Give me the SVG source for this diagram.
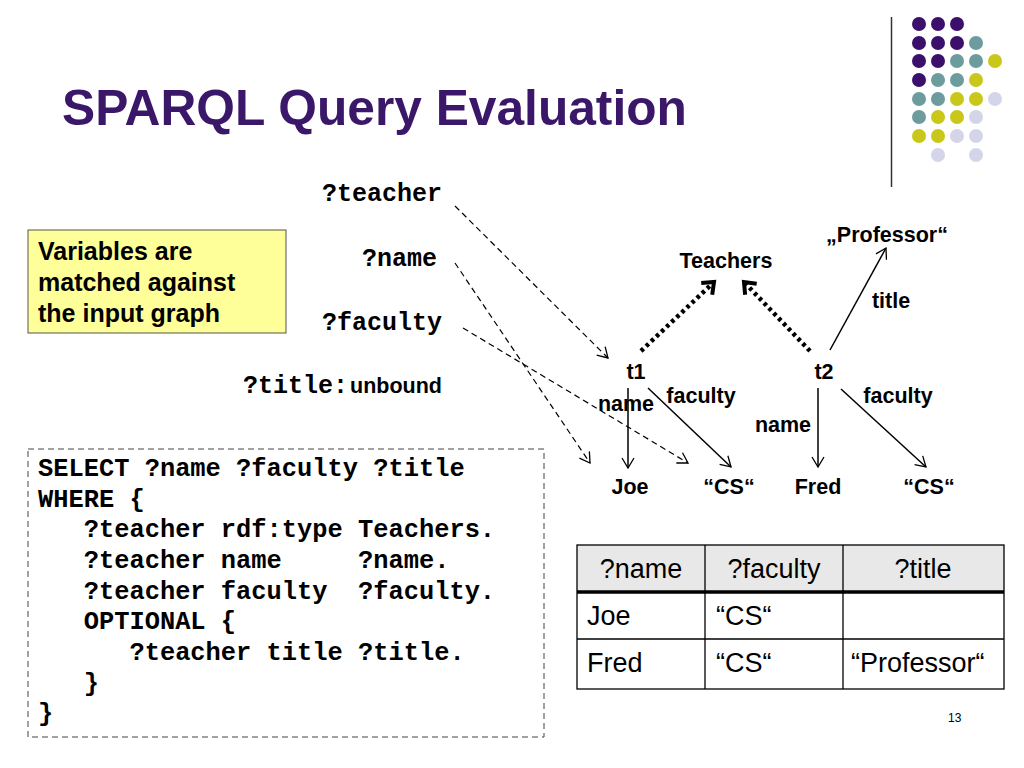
<svg xmlns="http://www.w3.org/2000/svg" width="1024" height="768" viewBox="0 0 1024 768">
<defs>
<style>
.title{font-family:"Liberation Sans",Arial,sans-serif;font-weight:bold;font-size:49.7px;fill:#3b1769}
.lab{font-family:"Liberation Sans",Arial,sans-serif;font-weight:bold;font-size:21.5px;fill:#000}
.var{font-family:"Liberation Mono","Courier New",monospace;font-weight:bold;font-size:25px;fill:#000}
.code{font-family:"Liberation Mono","Courier New",monospace;font-weight:bold;font-size:25.4px;fill:#000;white-space:pre}
.note{font-family:"Liberation Sans",Arial,sans-serif;font-weight:bold;font-size:25px;fill:#000}
.cell{font-family:"Liberation Sans",Arial,sans-serif;font-size:27px;fill:#000}
.dash{fill:none;stroke:#000;stroke-width:1.2;stroke-dasharray:6 4}
.solid{fill:none;stroke:#000;stroke-width:1.5}
.dot{fill:none;stroke:#000;stroke-width:4.5;stroke-dasharray:3.5 3.5}
.pu{fill:#3b0f6b}.te{fill:#6c9c9e}.ye{fill:#c9c81a}.la{fill:#d5d5e9}
</style>
<marker id="open" markerWidth="14" markerHeight="14" refX="12" refY="7" orient="auto" markerUnits="userSpaceOnUse">
<path d="M2,1 L12,7 L2,13" fill="none" stroke="#000" stroke-width="1.3"/>
</marker>
<marker id="thick" markerWidth="20" markerHeight="20" refX="15" refY="10" orient="auto" markerUnits="userSpaceOnUse">
<path d="M5,2 L15,10 L5,18" fill="none" stroke="#000" stroke-width="4"/>
</marker>
</defs>
<rect width="1024" height="768" fill="#fff"/>

<g id="decor">
<line x1="891.5" y1="17" x2="891.5" y2="187" stroke="#333" stroke-width="1.5"/>
<circle class="pu" cx="919" cy="24" r="7"/><circle class="pu" cx="938" cy="24" r="7"/><circle class="pu" cx="957" cy="24" r="7"/>
<circle class="pu" cx="919" cy="43" r="7"/><circle class="pu" cx="938" cy="43" r="7"/><circle class="pu" cx="957" cy="43" r="7"/><circle class="te" cx="976" cy="43" r="7"/>
<circle class="pu" cx="919" cy="61" r="7"/><circle class="pu" cx="938" cy="61" r="7"/><circle class="te" cx="957" cy="61" r="7"/><circle class="te" cx="976" cy="61" r="7"/><circle class="ye" cx="995" cy="61" r="7"/>
<circle class="pu" cx="919" cy="80" r="7"/><circle class="te" cx="938" cy="80" r="7"/><circle class="te" cx="957" cy="80" r="7"/><circle class="ye" cx="976" cy="80" r="7"/>
<circle class="te" cx="919" cy="99" r="7"/><circle class="te" cx="938" cy="99" r="7"/><circle class="ye" cx="957" cy="99" r="7"/><circle class="ye" cx="976" cy="99" r="7"/><circle class="la" cx="995" cy="99" r="7"/>
<circle class="te" cx="919" cy="117" r="7"/><circle class="ye" cx="938" cy="117" r="7"/><circle class="ye" cx="957" cy="117" r="7"/><circle class="la" cx="976" cy="117" r="7"/>
<circle class="ye" cx="919" cy="136" r="7"/><circle class="ye" cx="938" cy="136" r="7"/><circle class="la" cx="957" cy="136" r="7"/><circle class="la" cx="976" cy="136" r="7"/>
<circle class="la" cx="938" cy="155" r="7"/><circle class="la" cx="976" cy="155" r="7"/>
</g>

<text class="title" x="62" y="125">SPARQL Query Evaluation</text>

<g id="note">
<rect x="28" y="230" width="258" height="103" fill="#ffff99" stroke="#555" stroke-width="1"/>
<text class="note" x="38" y="260">Variables are</text>
<text class="note" x="38" y="291">matched against</text>
<text class="note" x="38" y="322">the input graph</text>
</g>

<g id="variables">
<text class="var" x="442" y="201" text-anchor="end">?teacher</text>
<text class="var" x="437" y="266" text-anchor="end">?name</text>
<text class="var" x="442" y="330" text-anchor="end">?faculty</text>
<text x="243" y="393"><tspan class="var">?title:</tspan><tspan class="lab" dx="2">unbound</tspan></text>
</g>

<g id="connectors">
<line class="dash" x1="455" y1="206" x2="608" y2="358" marker-end="url(#open)"/>
<line class="dash" x1="455" y1="263" x2="590" y2="463" marker-end="url(#open)"/>
<line class="dash" x1="463" y1="328" x2="688" y2="463" marker-end="url(#open)"/>
<line class="dot" x1="641" y1="351" x2="714" y2="282" marker-end="url(#thick)"/>
<line class="dot" x1="810" y1="351" x2="744" y2="282" marker-end="url(#thick)"/>
<line class="solid" x1="830" y1="350" x2="886" y2="248" marker-end="url(#open)"/>
<line class="solid" x1="628" y1="388" x2="628" y2="468" marker-end="url(#open)"/>
<line class="solid" x1="648" y1="388" x2="731" y2="467" marker-end="url(#open)"/>
<line class="solid" x1="818" y1="388" x2="818" y2="467" marker-end="url(#open)"/>
<line class="solid" x1="841" y1="389" x2="926" y2="467" marker-end="url(#open)"/>
</g>

<g id="edge-labels">
<text class="lab" x="891" y="308" text-anchor="middle">title</text>
<text class="lab" x="626" y="411" text-anchor="middle">name</text>
<text class="lab" x="701" y="403" text-anchor="middle">faculty</text>
<text class="lab" x="783" y="432" text-anchor="middle">name</text>
<text class="lab" x="898" y="403" text-anchor="middle">faculty</text>
</g>

<g id="n-teachers"><text class="lab" x="726" y="268" text-anchor="middle">Teachers</text></g>
<g id="n-professor"><text class="lab" x="887" y="242" text-anchor="middle">„Professor“</text></g>
<g id="n-t1"><text class="lab" x="636" y="379" text-anchor="middle">t1</text></g>
<g id="n-t2"><text class="lab" x="824" y="379" text-anchor="middle">t2</text></g>
<g id="n-joe"><text class="lab" x="630" y="494" text-anchor="middle">Joe</text></g>
<g id="n-cs1"><text class="lab" x="729" y="494" text-anchor="middle">“CS“</text></g>
<g id="n-fred"><text class="lab" x="818" y="494" text-anchor="middle">Fred</text></g>
<g id="n-cs2"><text class="lab" x="929" y="494" text-anchor="middle">“CS“</text></g>

<g id="query">
<rect x="28" y="449" width="516" height="288" fill="none" stroke="#444" stroke-width="1" stroke-dasharray="6 4"/>
<text class="code" x="38" y="476">SELECT ?name ?faculty ?title</text>
<text class="code" x="38" y="507">WHERE {</text>
<text class="code" x="38" y="537">   ?teacher rdf:type Teachers.</text>
<text class="code" x="38" y="568">   ?teacher name     ?name.</text>
<text class="code" x="38" y="599">   ?teacher faculty  ?faculty.</text>
<text class="code" x="38" y="629">   OPTIONAL {</text>
<text class="code" x="38" y="660">      ?teacher title ?title.</text>
<text class="code" x="38" y="691">   }</text>
<text class="code" x="38" y="721">}</text>
</g>

<g id="result-table">
<rect x="577" y="545" width="427" height="47" fill="#e8e8e8"/>
<rect x="577" y="545" width="427" height="144" fill="none" stroke="#000" stroke-width="1.3"/>
<line x1="577" y1="592" x2="1004" y2="592" stroke="#000" stroke-width="3.5"/>
<line x1="577" y1="639" x2="1004" y2="639" stroke="#000" stroke-width="1.3"/>
<line x1="705" y1="545" x2="705" y2="689" stroke="#000" stroke-width="1.3"/>
<line x1="843" y1="545" x2="843" y2="689" stroke="#000" stroke-width="1.3"/>
<text class="cell" x="641" y="578" text-anchor="middle">?name</text>
<text class="cell" x="774" y="578" text-anchor="middle">?faculty</text>
<text class="cell" x="923" y="578" text-anchor="middle">?title</text>
<text class="cell" x="587" y="625">Joe</text>
<text class="cell" x="716" y="625">“CS“</text>
<text class="cell" x="587" y="672">Fred</text>
<text class="cell" x="716" y="672">“CS“</text>
<text class="cell" x="851" y="672">“Professor“</text>
</g>

<text x="948" y="722" font-family="Liberation Sans,Arial,sans-serif" font-size="12" fill="#000">13</text>
</svg>
